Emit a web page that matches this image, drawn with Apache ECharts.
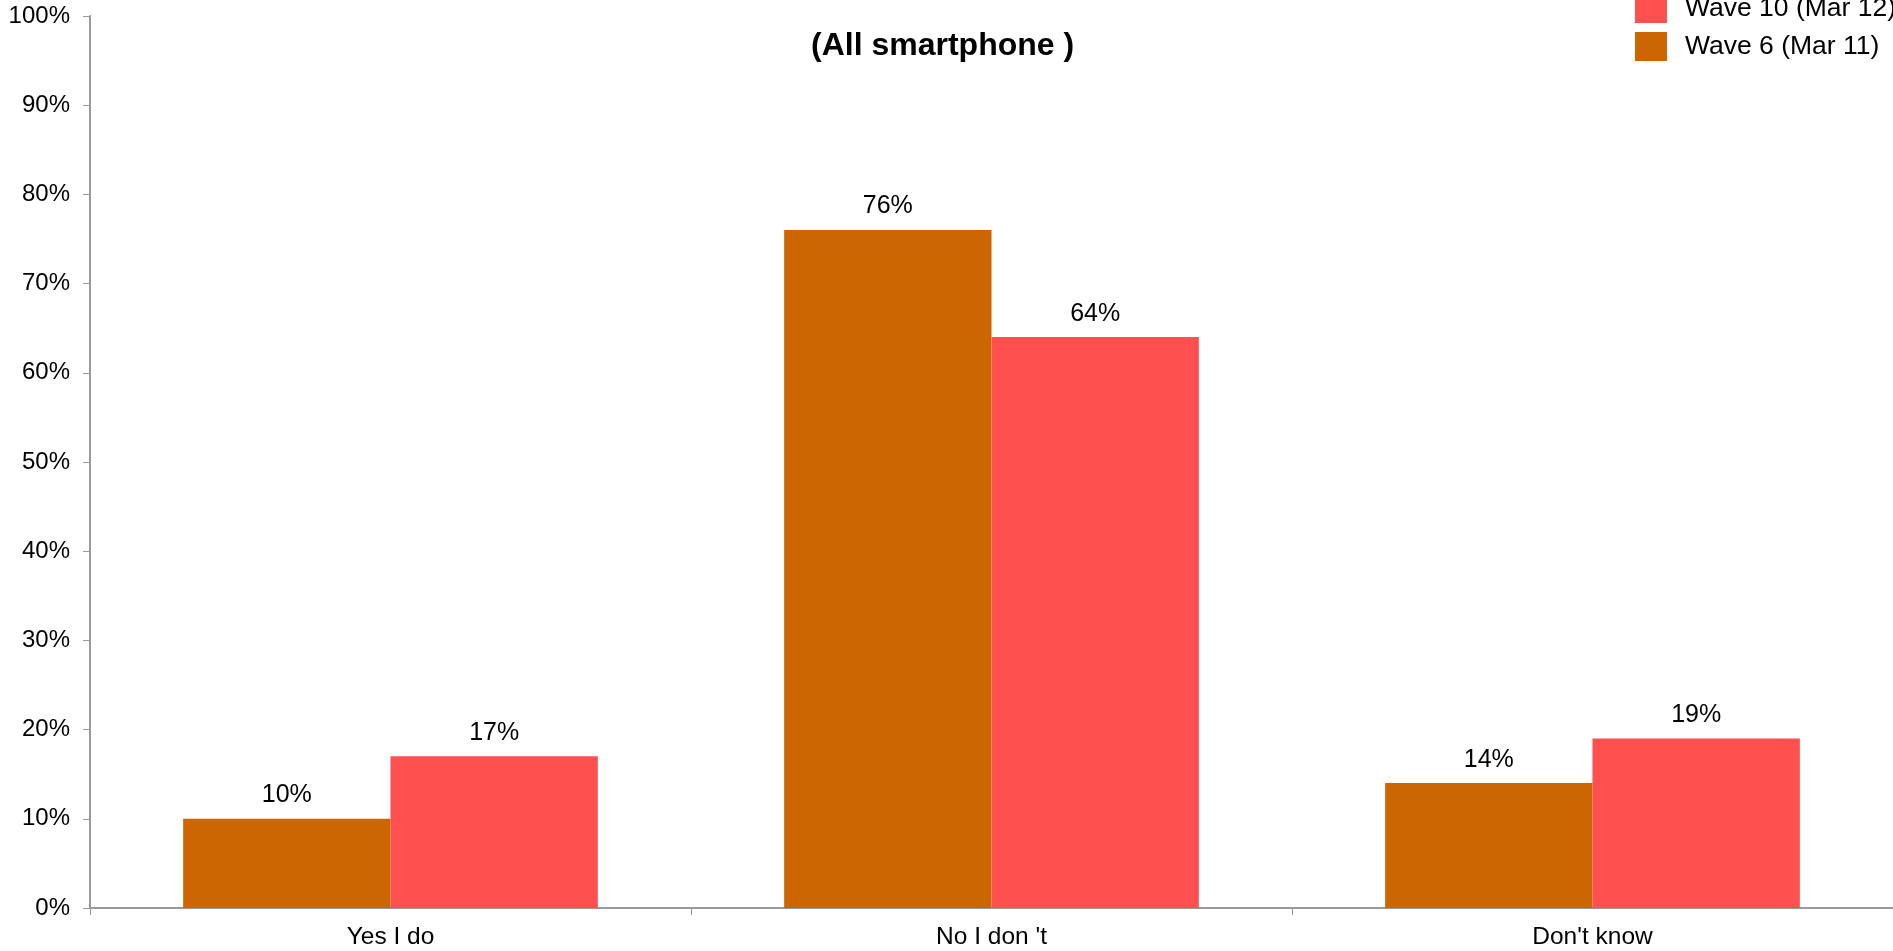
<!DOCTYPE html>
<html>
<head>
<meta charset="utf-8">
<script src="https://cdn.jsdelivr.net/npm/echarts@6/dist/echarts.min.js"></script>
<style>
html,body{margin:0;padding:0;background:#fff;}
#chart{width:1893px;height:951px;}
</style>
</head>
<body>
<div id="chart"></div>
<script>
const categories = ['Yes I do', 'No I don \'t', 'Don\'t know'];
const wave6 = [10, 76, 14];
const wave10 = [17, 64, 19];
const seriesNames = ['Wave 6 (Mar 11)', 'Wave 10 (Mar 12)'];

const font = 'Arial, "Liberation Sans", sans-serif';
const chart = echarts.init(document.getElementById('chart'));

const labelCfg = {
    show: true,
    position: 'top',
    distance: 11,
    formatter: '{c}%',
    color: '#000',
    fontFamily: font,
    fontSize: 25
};

chart.setOption({
    backgroundColor: '#fff',
    animation: false,
    title: {
        text: '(All smartphone )',
        left: 806,
        top: 25,
        textStyle: { fontFamily: font, fontSize: 32, fontWeight: 'bold', color: '#000' }
    },
    legend: {
        orient: 'vertical',
        left: 1630,
        top: -11,
        icon: 'rect',
        itemWidth: 32,
        itemHeight: 29,
        itemGap: 9,
        data: [seriesNames[1], seriesNames[0]],
        textStyle: { fontFamily: font, fontSize: 26.5, color: '#000', padding: [0, 0, 0, 13] }
    },
    grid: { left: 90, right: 0, top: 16, bottom: 43, containLabel: false },
    xAxis: {
        type: 'category',
        data: categories,
        axisLine: { lineStyle: { color: '#999', width: 2 } },
        axisTick: { show: true, length: 7, lineStyle: { color: '#999', width: 1 } },
        axisLabel: { color: '#000', fontFamily: font, fontSize: 24.5, margin: 17 }
    },
    yAxis: {
        type: 'value',
        min: 0,
        max: 100,
        interval: 10,
        splitLine: { show: false },
        axisLine: { show: true, lineStyle: { color: '#999', width: 2 } },
        axisTick: { show: true, length: 7, lineStyle: { color: '#999', width: 1 } },
        axisLabel: { color: '#000', fontFamily: font, fontSize: 24, margin: 20, formatter: '{value}%' }
    },
    series: [
        {
            name: seriesNames[0],
            type: 'bar',
            data: wave6,
            barGap: '0%',
            barCategoryGap: '31%',
            itemStyle: { color: '#CC6600' },
            label: labelCfg
        },
        {
            name: seriesNames[1],
            type: 'bar',
            data: wave10,
            itemStyle: { color: '#FF5050' },
            label: labelCfg
        }
    ]
});
</script>
</body>
</html>
